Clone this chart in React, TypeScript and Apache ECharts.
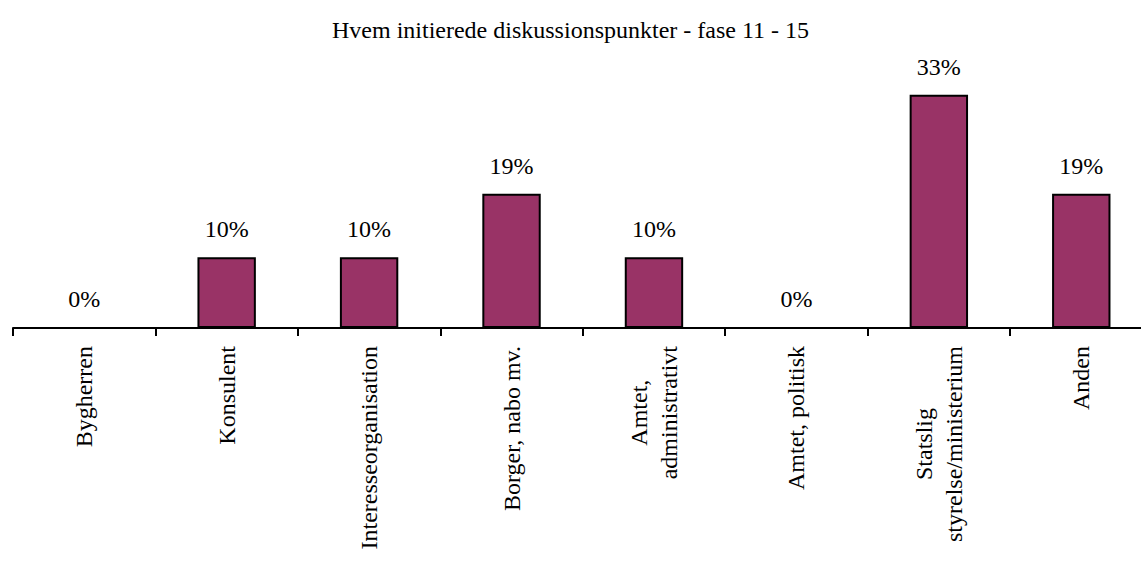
import React, { useEffect, useRef } from "react";
import * as echarts from "echarts";

const title = "Hvem initierede diskussionspunkter - fase 11 - 15";
const categories = [
  "Bygherren",
  "Konsulent",
  "Interesseorganisation",
  "Borger, nabo mv.",
  "Amtet,\nadministrativt",
  "Amtet, politisk",
  "Statslig\nstyrelse/ministerium",
  "Anden",
];
const values = [0, 10, 10, 19, 10, 0, 33, 19];

const FONT = '"Liberation Serif", "Times New Roman", serif';

export default function App() {
  const ref = useRef<HTMLDivElement>(null);
  useEffect(() => {
    if (!ref.current) return;
    const chart = echarts.init(ref.current, undefined, { renderer: "svg" });
    chart.setOption({
      animation: false,
      backgroundColor: "#ffffff",
      title: {
        text: title,
        left: "center",
        top: 13,
        textStyle: { fontFamily: FONT, fontSize: 24, fontWeight: "normal", color: "#000" },
      },
      grid: {
        left: 13,
        width: 1139.5,
        top: 80.5,
        height: 247.5,
        outerBoundsMode: "none",
        containLabel: false,
      },
      xAxis: {
        type: "category",
        data: categories,
        axisLine: { show: true, lineStyle: { color: "#000", width: 2 } },
        axisTick: { show: true, length: 8, lineStyle: { color: "#000", width: 2 } },
        axisLabel: {
          rotate: 90,
          interval: 0,
          margin: 18,
          color: "#000",
          fontFamily: FONT,
          fontSize: 24,
          lineHeight: 30,
          formatter: (v: string) =>
            v.split("\n").map((s) => `{c|${s}}`).join("\n"),
          rich: {
            c: { align: "center", fontFamily: FONT, fontSize: 24, lineHeight: 30, color: "#000" },
          },
        },
      },
      yAxis: {
        type: "value",
        min: 0,
        max: 35,
        show: false,
        splitLine: { show: false },
      },
      series: [
        {
          type: "bar",
          data: values,
          barWidth: "41%",
          itemStyle: { color: "#993366", borderColor: "#000", borderWidth: 2 },
          label: {
            show: true,
            position: "top",
            distance: 16,
            formatter: (p: any) => `${p.value}%`,
            fontFamily: FONT,
            fontSize: 24,
            color: "#000",
          },
        },
      ],
    });
    return () => chart.dispose();
  }, []);
  return (
    <div
      ref={ref}
      style={{ position: "absolute", left: 0, top: 0, width: 1141, height: 561 }}
    />
  );
}
